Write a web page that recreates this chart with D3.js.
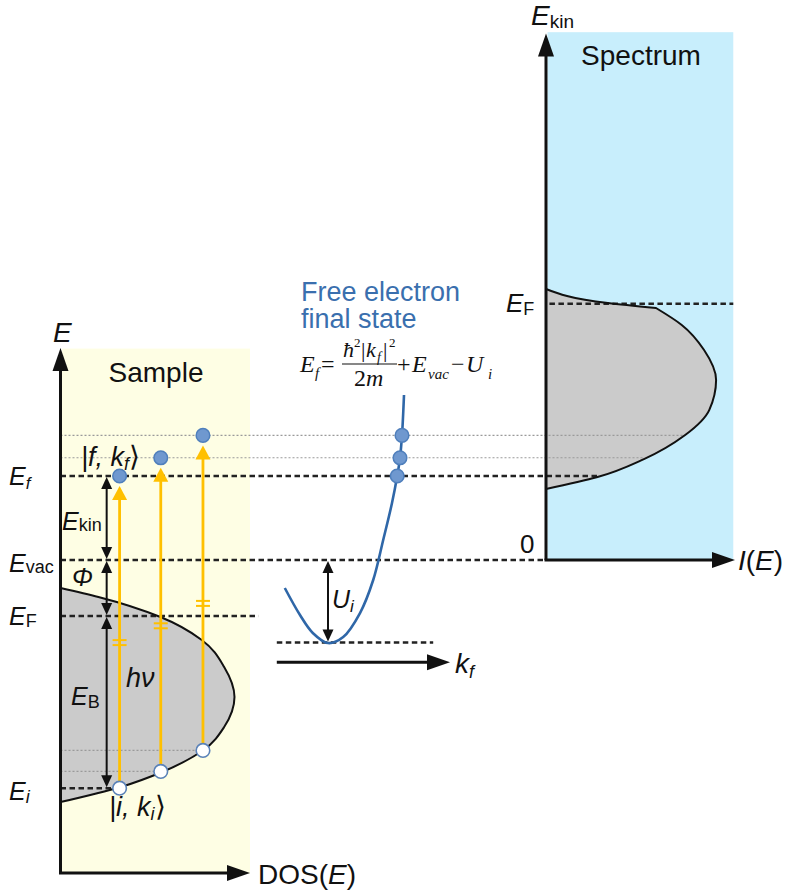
<!DOCTYPE html>
<html><head><meta charset="utf-8">
<script src="https://cdn.jsdelivr.net/npm/d3@7"></script>
<style>body{margin:0;background:#fff}svg{display:block}</style>
</head><body>
<svg id="chart" width="787" height="893"></svg>
<script>
// Energies are given relative to the vacuum level (arbitrary eV-like units).
const eVac = 0;
const eFermi = -4.0;
const eFermiKin = 18.3;          // Fermi edge on the kinetic-energy axis
const eInnerMin = -5.9;          // bottom of the free-electron band (E_vac - U_i)

// three photo-excitations |i,k_i> -> |f,k_f>
const initialE = [-16.3, -15.1, -13.6];
const initialDos = [0.343, 0.582, 0.827];
const finalE = [6.0, 7.3, 8.9];
const finalK = [1.73, 1.8, 1.85];
const breakE = [-5.9, -4.7, -3.1];

// density of states of the sample
const dosVal = [0.00, 0.22, 0.58, 0.82, 0.95, 1.01, 0.95, 0.83, 0.59, 0.35, 0.00];
const dosE = [-2.0, -2.64, -4.07, -5.71, -7.64, -9.79, -11.93, -13.57, -15.14, -16.21, -17.29];

// measured spectrum I(E_kin): Fermi-edge part and valence-band part
const specTopVal = [0.00, 0.36, 0.64];
const specTopE = [19.36, 18.36, 18.0];
const specVal = [0.64, 0.79, 0.92, 0.99, 0.95, 0.81, 0.57, 0.30, 0.00];
const specE = [18.0, 16.79, 15.0, 12.86, 10.71, 8.93, 7.21, 5.93, 5.07];

// free-electron final-state dispersion E(k)
const dispK = [-1.08, -0.7, -0.38, 0, 0.38, 0.8, 1.13, 1.38, 1.6, 1.73, 1.8, 1.85, 1.9];
const dispE = [-2.0, -3.93, -5.21, -5.93, -5.5, -3.79, -1.43, 1.43, 4.07, 6.0, 7.3, 8.9, 11.79];

// horizontal guide lines: energy, style, start and end (panel, value)
const guideE     = [8.9, 7.3, 6.0, 0, -4.0, -5.9, -13.6, -15.1, -16.3];
const guideStyle = ["dot", "dot", "dash", "dash", "dash", "dash", "dot", "dot", "dash"];
const guideFrom  = [["dos", 0], ["dos", 0], ["dos", 0], ["dos", 0], ["dos", 0], ["k", -1.28], ["dos", 0], ["dos", 0], ["dos", 0]];
const guideTo    = [["spec", 0.81], ["spec", 0.57], ["spec", 0.30], ["spec", 0], ["dos", 1.15], ["k", 2.63], ["dos", 0.827], ["dos", 0.582], ["dos", 0.343]];

const svg = d3.select("#chart");

// scales
const y = d3.scaleLinear().domain([-22.5, 38]).range([875, 28]);
const xDos = d3.scaleLinear().domain([0, 1.1]).range([60.5, 250]);
const xSpec = d3.scaleLinear().domain([0, 1.1]).range([546, 735]);
const xK = d3.scaleLinear().domain([-1.3, 3.1]).range([276, 452]);
const sx = {dos: xDos, spec: xSpec, k: xK};

const ink = "#111";
const sans = "'Liberation Sans', Arial, sans-serif";
const serif = "'Liberation Serif', 'Times New Roman', serif";

// panel backgrounds
svg.append("rect").attr("x", xDos(0) + 1.5).attr("y", y(15.1)).attr("width", xDos(1.1) - xDos(0) - 1.5)
  .attr("height", y(-22.4) - y(15.1)).attr("fill", "#fefee4");
svg.append("rect").attr("x", xSpec(0) + 1.5).attr("y", y(37.7)).attr("width", xSpec(1.09) - xSpec(0) - 1.5)
  .attr("height", y(0) - y(37.7)).attr("fill", "#c8eefc");

// DOS shape
const dosPts = dosVal.map((v, i) => ({v, e: dosE[i]}));
svg.append("path").datum(dosPts)
  .attr("d", d3.area().curve(d3.curveMonotoneY).y(d => y(d.e)).x0(xDos(0)).x1(d => xDos(d.v)))
  .attr("fill", "#cbcbcb");

// spectrum shape: smooth Fermi tail joined to the valence band with a kink
const specTopPts = specTopVal.map((v, i) => ({v, e: specTopE[i]}));
const specPts = specVal.map((v, i) => ({v, e: specE[i]}));
const specLine = d3.line().curve(d3.curveMonotoneY).y(d => y(d.e)).x(d => xSpec(d.v));
const specOutline = specLine(specTopPts) + specLine(specPts).replace(/^M/, "L");
svg.append("path")
  .attr("d", specOutline + "Z")
  .attr("fill", "#cbcbcb");

// guide lines
guideE.forEach((e, i) => {
  const f = guideFrom[i], t = guideTo[i];
  const dash = guideStyle[i] === "dash";
  svg.append("line")
    .attr("x1", sx[f[0]](f[1])).attr("x2", sx[t[0]](t[1]))
    .attr("y1", y(e)).attr("y2", y(e))
    .attr("stroke", dash ? "#222" : "#9a9a9a")
    .attr("stroke-width", dash ? 2.5 : 1.1)
    .attr("stroke-dasharray", dash ? "5.5,3.5" : "2,2");
});
// Fermi edge level in the spectrum
svg.append("line").attr("x1", xSpec(0.02)).attr("x2", xSpec(1.09))
  .attr("y1", y(eFermiKin)).attr("y2", y(eFermiKin))
  .attr("stroke", "#222").attr("stroke-width", 2.5).attr("stroke-dasharray", "5.5,3.5");

// outlines of DOS and spectrum
svg.append("path").datum(dosPts)
  .attr("d", d3.line().curve(d3.curveMonotoneY).y(d => y(d.e)).x(d => xDos(d.v)))
  .attr("fill", "none").attr("stroke", ink).attr("stroke-width", 2);
svg.append("path").attr("d", specOutline)
  .attr("fill", "none").attr("stroke", ink).attr("stroke-width", 2);

// free-electron dispersion
const dispPts = dispK.map((k, i) => ({k, e: dispE[i]}));
svg.append("path").datum(dispPts)
  .attr("d", d3.line().curve(d3.curveCatmullRom.alpha(0.5)).x(d => xK(d.k)).y(d => y(d.e)))
  .attr("fill", "none").attr("stroke", "#2f67a8").attr("stroke-width", 2.6);

// arrowhead polygon: tip at (tx,ty), direction (ux,uy)
function head(g, tx, ty, ux, uy, len, w, color) {
  const bx = tx - ux * len, by = ty - uy * len;
  const nx = -uy, ny = ux;
  g.append("polygon")
    .attr("points", [[tx, ty], [bx + nx * w / 2, by + ny * w / 2], [bx - nx * w / 2, by - ny * w / 2]].map(p => p.join(",")).join(" "))
    .attr("fill", color);
}

// axes
function axis(x1, y1, x2, y2) {
  const L = Math.hypot(x2 - x1, y2 - y1), ux = (x2 - x1) / L, uy = (y2 - y1) / L;
  svg.append("line").attr("x1", x1).attr("y1", y1).attr("x2", x2 - ux * 18).attr("y2", y2 - uy * 18)
    .attr("stroke", ink).attr("stroke-width", 3);
  head(svg, x2, y2, ux, uy, 23, 16, ink);
}
axis(xDos(0), y(-22.36), xDos(0), y(15.15));
axis(xDos(0) - 1.5, y(-22.36), xDos(1.1), y(-22.36));
axis(xSpec(0), y(0), xSpec(0), y(37.6));
axis(xSpec(0) - 1.5, y(0), xSpec(1.1), y(0));
axis(xK(-1.28), y(-7.3), xK(3.05), y(-7.3));

// double-headed energy arrows
function dbl(x, eTop, eBot) {
  const t = y(eTop) + 1, b = y(eBot) - 1;
  svg.append("line").attr("x1", x).attr("x2", x).attr("y1", t + 8).attr("y2", b - 8)
    .attr("stroke", ink).attr("stroke-width", 2);
  head(svg, x, t, 0, -1, 12, 11, ink);
  head(svg, x, b, 0, 1, 12, 11, ink);
}
const xArr = xDos(0.268);
dbl(xArr, finalE[0], eVac);
dbl(xArr, eVac, eFermi);
dbl(xArr, eFermi, initialE[0]);
dbl(xK(0), eVac, eInnerMin);

// photon-excitation arrows
const yellow = "#ffc000";
initialE.forEach((ei, i) => {
  const x = xDos(initialDos[i]);
  const tip = y(finalE[i]) + 10;
  svg.append("line").attr("x1", x).attr("x2", x).attr("y1", y(ei)).attr("y2", tip + 10)
    .attr("stroke", yellow).attr("stroke-width", 2.8);
  head(svg, x, tip, 0, -1, 14, 15, yellow);
  [-2.5, 2.5].forEach(o => {
    svg.append("line").attr("x1", x - 7).attr("x2", x + 7)
      .attr("y1", y(breakE[i]) + o).attr("y2", y(breakE[i]) + o)
      .attr("stroke", yellow).attr("stroke-width", 2);
  });
});

// states
initialE.forEach((ei, i) => {
  svg.append("circle").attr("cx", xDos(initialDos[i])).attr("cy", y(ei)).attr("r", 6.8)
    .attr("fill", "#fff").attr("stroke", "#5a82b8").attr("stroke-width", 1.6);
  svg.append("circle").attr("cx", xDos(initialDos[i])).attr("cy", y(finalE[i])).attr("r", 6.8)
    .attr("fill", "#6f98cf").attr("stroke", "#4f7fbc").attr("stroke-width", 1.5);
  svg.append("circle").attr("cx", xK(finalK[i])).attr("cy", y(finalE[i])).attr("r", 6.8)
    .attr("fill", "#6f98cf").attr("stroke", "#4f7fbc").attr("stroke-width", 1.5);
});

// text helper: parts = [text, size, italic, dy]
function label(x, yb, parts, opts = {}) {
  const t = svg.append("text").attr("x", x).attr("y", yb)
    .attr("font-family", opts.family || sans).attr("fill", opts.color || ink)
    .attr("text-anchor", opts.anchor || "start");
  parts.forEach(p => {
    t.append("tspan").text(p[0]).attr("font-size", p[1])
      .attr("font-style", p[2] ? "italic" : "normal").attr("dy", p[3] || 0);
  });
  return t;
}

// panel titles
label(156, 382, [["Sample", 28]], {anchor: "middle"});
label(641, 65, [["Spectrum", 28]], {anchor: "middle"});

// axis labels
label(53, 342, [["E", 28, true]]);
label(258, 884, [["DOS(", 28], ["E", 28, true], [")", 28]]);
label(531, 25, [["E", 28, true], ["kin", 19, false, 3]]);
label(738, 570, [["I", 28, true], ["(", 28], ["E", 28, true], [")", 28]]);
label(455, 673, [["k", 28, true], ["f", 18, true, 5]]);
label(520, 553, [["0", 26]]);
label(506, 312, [["E", 26, true], ["F", 18, false, 3]]);

// energy level labels
label(9, 485, [["E", 25, true], ["f", 17, true, 4]]);
label(9, 572, [["E", 25, true], ["vac", 18, false, 1]]);
label(9, 625, [["E", 25, true], ["F", 18, false, 2]]);
label(9, 800, [["E", 25, true], ["i", 18, true, 3]]);
label(62, 530, [["E", 25, true], ["kin", 18, false, 1]]);
label(72, 586, [["Φ", 25, true]]);
label(71, 705, [["E", 25, true], ["B", 18, false, 3]]);
label(126, 687, [["hν", 27, true]]);
label(81, 466, [["|f, k", 27, true], ["f", 18, true, 4], ["⟩", 28, false, -4]]);
label(109, 816, [["|i, k", 27, true], ["i", 18, true, 4], ["⟩", 28, false, -4]]);
label(332, 608, [["U", 25, true], ["i", 17, true, 4]]);

// free-electron title (two lines in one text block) and formula
const title = svg.append("text").attr("font-family", sans).attr("font-size", 27).attr("fill", "#3a6fae");
title.append("tspan").attr("x", 301).attr("y", 301).text("Free electron");
title.append("tspan").attr("x", 301).attr("dy", 27).text("final state");

const fPieces = [
  ["E", 300, 372, 24, true], ["f", 315, 378, 15, true], ["=", 321, 372, 24, false],
  ["ħ", 343, 357, 22, true], ["2", 354, 347, 13, false], ["|", 361, 357, 22, false],
  ["k", 366, 357, 22, true], ["f", 377, 362, 14, true], ["|", 383, 357, 22, false], ["2", 389, 347, 13, false],
  ["2", 354, 386, 24, false], ["m", 366, 386, 24, true],
  ["+", 397, 372, 24, false], ["E", 412, 372, 24, true], ["vac", 428, 379, 15, true],
  ["−", 451, 372, 24, false], ["U", 466, 372, 24, true], ["i", 488, 379, 15, true]
];
fPieces.forEach(p => {
  svg.append("text").attr("x", p[1]).attr("y", p[2]).text(p[0])
    .attr("font-family", serif).attr("font-size", p[3])
    .attr("font-style", p[4] ? "italic" : "normal").attr("fill", ink);
});
svg.append("line").attr("x1", 342).attr("x2", 397).attr("y1", 364).attr("y2", 364)
  .attr("stroke", ink).attr("stroke-width", 1.2);
</script>
</body></html>
